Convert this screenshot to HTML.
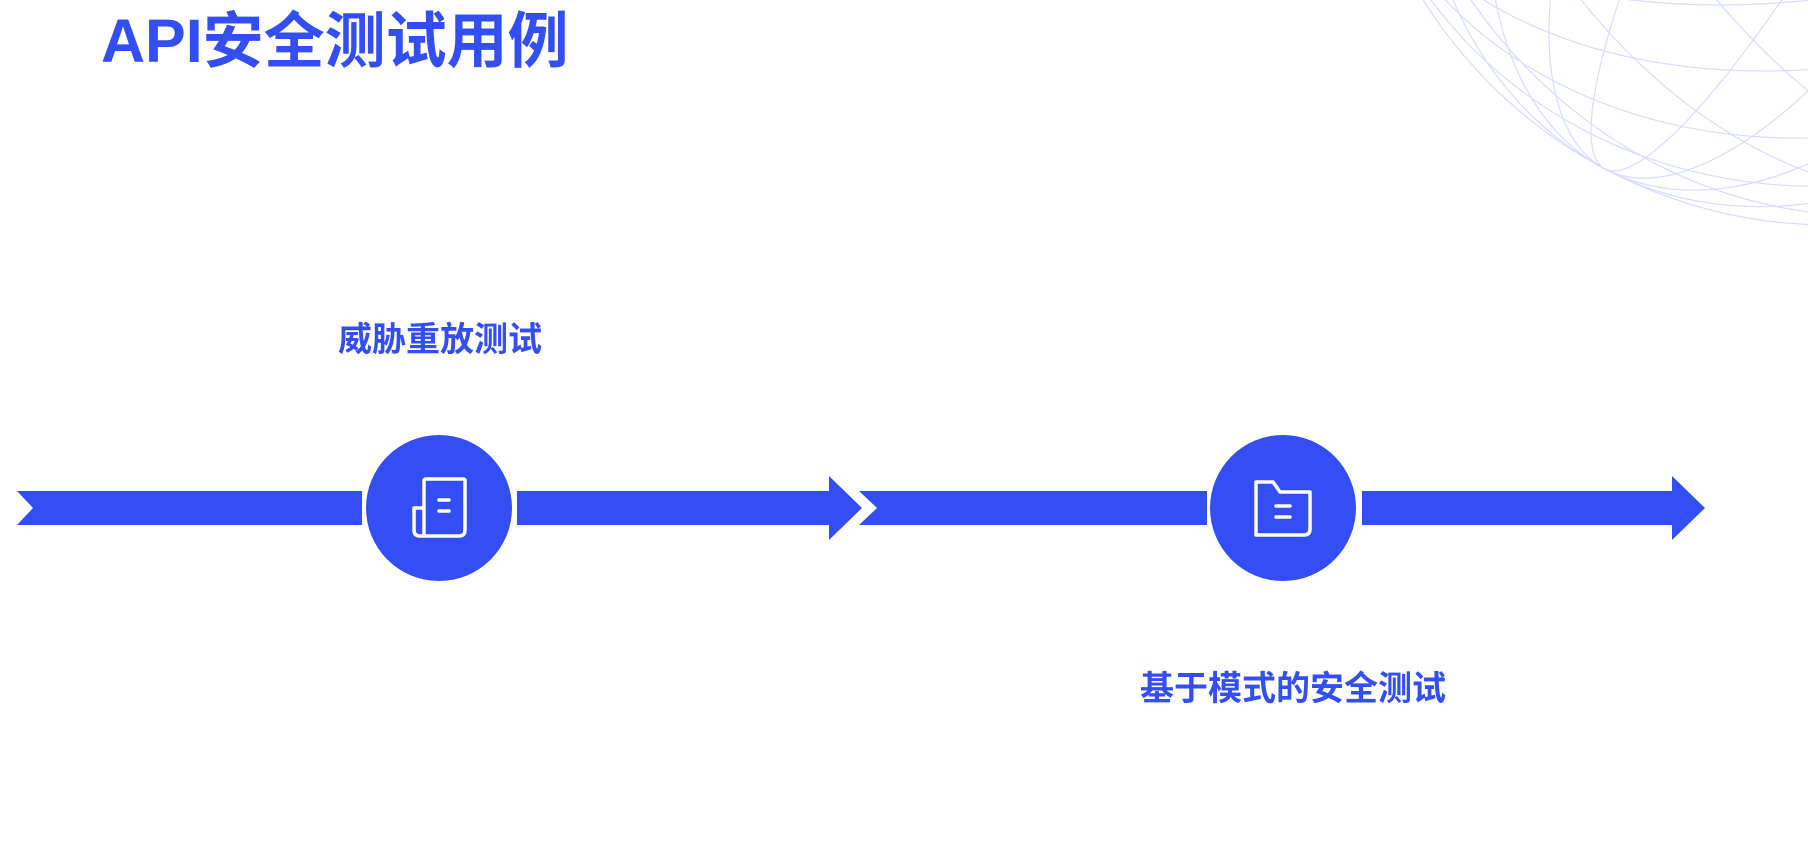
<!DOCTYPE html>
<html><head><meta charset="utf-8"><style>
html,body{margin:0;padding:0;background:#fff;width:1808px;height:867px;overflow:hidden;position:relative;font-family:"Liberation Sans","Noto Sans CJK SC",sans-serif}
.t{position:absolute;color:#334ef5;font-weight:bold;white-space:nowrap}
</style></head><body>
<svg width="1808" height="867" style="position:absolute;left:0;top:0">
<clipPath id="c"><circle cx="1830" cy="-255" r="481"/></clipPath>
<g stroke="#d8dcfa" stroke-width="1.2" fill="none">
<circle cx="1830" cy="-255" r="480"/>
<g clip-path="url(#c)">
<ellipse cx="1830" cy="-255" rx="480" ry="250" transform="rotate(-10 1830 -255)"/>
<ellipse cx="1830" cy="-255" rx="480" ry="320" transform="rotate(-10 1830 -255)"/>
<ellipse cx="1830" cy="-255" rx="480" ry="390" transform="rotate(-10 1830 -255)"/>
<ellipse cx="1830" cy="-255" rx="480" ry="440" transform="rotate(-10 1830 -255)"/>
<ellipse cx="1830" cy="-255" rx="480" ry="180" transform="rotate(-10 1830 -255)"/>
<ellipse cx="1830" cy="-255" rx="90" ry="480" transform="rotate(28 1830 -255)"/>
<ellipse cx="1830" cy="-255" rx="190" ry="480" transform="rotate(28 1830 -255)"/>
<ellipse cx="1830" cy="-255" rx="290" ry="480" transform="rotate(28 1830 -255)"/>
<ellipse cx="1830" cy="-255" rx="390" ry="480" transform="rotate(28 1830 -255)"/>
<ellipse cx="1830" cy="-255" rx="130" ry="480" transform="rotate(-30 1830 -255)"/>
<ellipse cx="1830" cy="-255" rx="240" ry="480" transform="rotate(-30 1830 -255)"/>
<ellipse cx="1830" cy="-255" rx="350" ry="480" transform="rotate(-30 1830 -255)"/>
<ellipse cx="1830" cy="-255" rx="440" ry="480" transform="rotate(-30 1830 -255)"/>
</g></g>
<g fill="#334ef5">
<polygon points="17,491 362,491 362,525 17,525 33,508"/>
<polygon points="517,491 829,491 829,476 862,508 829,540 829,525 517,525"/>
<polygon points="859,491 1207,491 1207,525 859,525 877,508"/>
<polygon points="1362,491 1672,491 1672,476 1705,508 1672,540 1672,525 1362,525"/>
<circle cx="439" cy="508" r="76" fill="#fff"/>
<circle cx="439" cy="508" r="73"/>
<circle cx="1283" cy="508" r="76" fill="#fff"/>
<circle cx="1283" cy="508" r="73"/>
</g>
<g stroke="#fff" stroke-width="3.5" fill="none" stroke-linecap="round" stroke-linejoin="round">
<path d="M424 536 V481 Q424 479 426 479 H463 Q465 479 465 481 V530 Q465 536 459 536 H420 Q414 536 414 530 V508 H424"/>
<path d="M439 500 H449 M439 511 H449"/>
<path d="M1256 482 H1273 L1280 492 H1310 V529 Q1310 535 1304 535 H1256 Z"/>
<path d="M1276 506 H1290 M1276 517 H1290"/>
</g>
</svg>
<div class="t" style="left:101px;top:5px;font-size:61px;line-height:72px">API安全测试用例</div>
<div class="t" style="left:338px;top:320px;font-size:34px;line-height:40px">威胁重放测试</div>
<div class="t" style="left:1140px;top:669px;font-size:34px;line-height:40px">基于模式的安全测试</div>
</body></html>
